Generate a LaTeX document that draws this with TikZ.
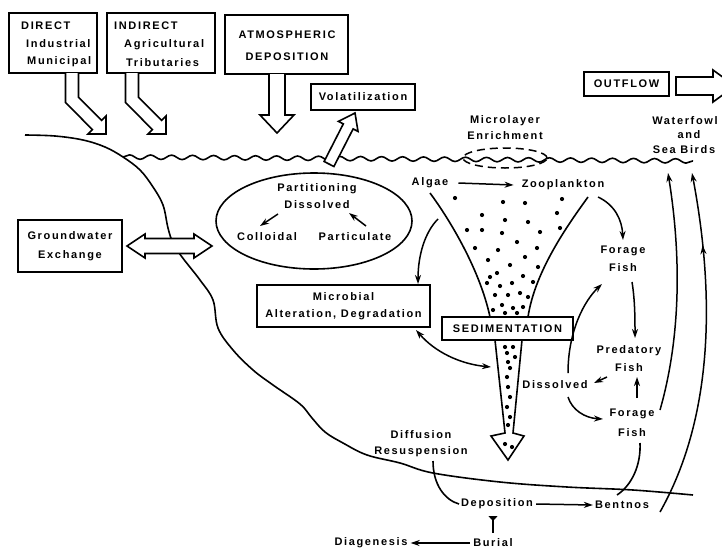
\documentclass[tikz,border=0pt]{standalone}
\usepackage{fontspec}
\setmainfont{Liberation Sans}[LetterSpace=15]
\usetikzlibrary{arrows.meta,decorations.pathmorphing,decorations.markings,shapes.geometric}
\begin{document}
\begin{tikzpicture}[x=1pt,y=-1pt,
  lbl/.style={font=\bfseries\fontsize{11}{13}\selectfont, inner sep=0pt, align=center},
  box/.style={draw, line width=1.6pt, inner sep=0pt},
  ln/.style={line width=1.6pt},
  arr/.style={line width=1.5pt, -{Stealth[length=9pt,width=6pt]}},
  arrb/.style={line width=1.5pt, {Stealth[length=9pt,width=6pt]}-{Stealth[length=9pt,width=6pt]}},
  hollow/.style={line width=1.6pt, fill=white, line join=miter}]
\useasboundingbox (0,0) rectangle (722,549);
\clip (0,0) rectangle (722,549);

% ---------- top boxes ----------
\node[box, minimum width=88pt, minimum height=60pt] (direct) at (53,43) {};
\node[lbl, anchor=west] (directT) at (21,26) {DIRECT};
\node[lbl, anchor=west] (indus) at (26,44) {Industrial};
\node[lbl, anchor=west] (munic) at (27,62) {Municipal};

\node[box, minimum width=108pt, minimum height=60pt] (indirect) at (161,43) {};
\node[lbl, anchor=west] (indirectT) at (114,26) {INDIRECT};
\node[lbl, anchor=west] (agri) at (124,45) {Agricultural};
\node[lbl, anchor=west] (trib) at (126,63) {Tributaries};

\node[box, minimum width=123pt, minimum height=59pt] (atmos) at (286.5,44.5) {};
\node[lbl] (atmos1) at (287,35) {ATMOSPHERIC};
\node[lbl] (atmos2) at (287,57) {DEPOSITION};

\node[box, minimum width=104pt, minimum height=26pt, font=\bfseries\fontsize{11}{13}\selectfont] (volat) at (363,97) {Volatilization};
\node[box, minimum width=85pt, minimum height=24pt, font=\bfseries\fontsize{11}{13}\selectfont] (outflow) at (626.5,84) {OUTFLOW};

% ---------- hollow arrows ----------
\draw[hollow] (65.5,73) -- (65.5,102.5) -- (92.4,129.6) -- (88,134) -- (106,134) -- (106,116) -- (101.6,120.4) -- (78.5,97.3) -- (78.5,73);
\draw[hollow] (125.5,73) -- (125.5,102.5) -- (152.4,129.6) -- (148,134) -- (166,134) -- (166,116) -- (161.6,120.4) -- (138.5,97.3) -- (138.5,73);
\draw[hollow] (269,74) -- (269,115) -- (260,115) -- (277,133) -- (294,115) -- (285,115) -- (285,74);
\draw[hollow] (676,77) -- (713,77) -- (713,70) -- (735,86) -- (713,102) -- (713,95) -- (676,95) -- cycle;

% ---------- shore and bottom ----------
\draw[ln] plot[smooth, tension=0.6] coordinates {(25,135) (55,136) (83,140) (105,147) (123,157) (140,170) (153,187) (163,205) (168,228) (173,243) (182,257) (200,280) (213,300) (218,328) (233,350) (253,370) (273,385) (300,404) (312,418) (325,432) (343,443) (367,455) (400,463) (433,473) (500,482) (567,487) (633,490) (693,495)};

% water surface
\draw[ln, decorate, decoration={snake, amplitude=2.2pt, segment length=21pt}] (123,157) -- (693,161);

% volatilization hollow arrow
\draw[hollow] (324.1,161.5) -- (343.3,123.9) -- (338.4,121.4) -- (355,113) -- (358,131.4) -- (353.1,128.9) -- (333.9,166.5) -- cycle;

% groundwater
\node[box, minimum width=104pt, minimum height=52pt, align=center, font=\bfseries\fontsize{11}{19}\selectfont] (ground) at (70,246) {Groundwater\\Exchange};
\draw[hollow] (127,246) -- (145,234) -- (145,238.5) -- (194,238.5) -- (194,234) -- (212,246) -- (194,258) -- (194,253.5) -- (145,253.5) -- (145,258) -- cycle;

% microlayer
\node[lbl, font=\bfseries\fontsize{11}{16}\selectfont] (microT) at (505,128) {Microlayer\\Enrichment};
\node[draw, ellipse, dashed, line width=1.5pt, dash pattern=on 8pt off 5pt, minimum width=84pt, minimum height=20pt] (micro) at (505,158) {};

% waterfowl
\node[lbl] (water1) at (685,121) {Waterfowl};
\node[lbl] (water2) at (689,135) {and};
\node[lbl] (water3) at (684,150) {Sea Birds};

% ---------- partitioning ellipse ----------
\node[draw, ellipse, line width=1.6pt, minimum width=196pt, minimum height=96pt] (part) at (314,221) {};
\node[lbl] (partT) at (317,189) {Partitioning};
\node[lbl] (dissP) at (317,205) {Dissolved};
\node[lbl] (coll) at (267,237) {Colloidal};
\node[lbl] (partic) at (355,237) {Particulate};
\draw[arr] (278,214) -- (260,226);
\draw[arr] (366,226) -- (349,213);

% ---------- microbial, sedimentation ----------
\node[box, minimum width=173pt, minimum height=42pt, align=center, font=\bfseries\fontsize{11}{17}\selectfont] (microb) at (343.5,306) {Microbial\\Alteration, Degradation};

% funnel
\draw[ln] (430,193) .. controls (450,220) and (480,270) .. (490,317);
\draw[ln] (588,197) .. controls (570,222) and (535,270) .. (528,317);
\draw[ln, line join=miter] (495,340) -- (505,433) -- (491,436) -- (508,460) -- (524,436) -- (513,433) -- (522,340);
\foreach \p in {(455,198),(503,202),(525,203),(562,199),(482,215),(505,220),(528,222),(557,213),
  (467,230),(482,230),(502,233),(540,232),(560,228),(517,242),(475,248),(498,250),(537,248),
  (488,260),(525,257),(510,265),(538,267),(497,273),(523,276),(490,277),(487,283),(512,283),
  (533,282),(500,286),(495,295),(508,295),(520,293),(528,297),(502,305),(513,308),(523,307),
  (505,313),(517,313),(493,310),
  (505,347),(513,347),(507,353),(515,357),(508,362),(510,368),(507,377),(508,387),(510,397),
  (507,407),(510,417),(508,425),(505,444),(512,447)}
  \fill \p circle (2.1pt);

\node[box, fill=white, minimum width=131pt, minimum height=23pt, font=\bfseries\fontsize{11}{13}\selectfont] (sed) at (507.5,328.5) {SEDIMENTATION};

% ---------- food web labels ----------
\node[lbl] (algae) at (430,183) {Algae};
\node[lbl] (zoo) at (563,185) {Zooplankton};
\node[lbl, font=\bfseries\fontsize{11}{18}\selectfont] (forage1) at (623,259) {Forage\\Fish};
\node[lbl, font=\bfseries\fontsize{11}{18}\selectfont] (pred) at (629,359) {Predatory\\Fish};
\node[lbl] (diss) at (555,385) {Dissolved};
\node[lbl, font=\bfseries\fontsize{11}{20}\selectfont] (forage2) at (632,423) {Forage\\Fish};
\node[lbl, font=\bfseries\fontsize{11}{16}\selectfont] (diff) at (421,444) {Diffusion\\Resuspension};
\node[lbl] (depo) at (497,504) {Deposition};
\node[lbl] (bent) at (622,505) {Bentnos};
\node[lbl] (burial) at (493,543) {Burial};
\node[lbl] (diag) at (371,543) {Diagenesis};

% coordinates for curved connectors
\coordinate (a1) at (438,219);
\coordinate (m1) at (418,284);
\coordinate (m2) at (416,330);
\coordinate (f1) at (491,367);
\coordinate (z1) at (598,197);
\coordinate (ff1) at (623,240);
\coordinate (ff1b) at (632,282);
\coordinate (pr1) at (635,338);
\coordinate (pr2) at (607,377);
\coordinate (ds1) at (594,383);
\coordinate (ds2) at (568,373);
\coordinate (ff1c) at (602,284);
\coordinate (ds3) at (568,397);
\coordinate (ff2a) at (603,419);
\coordinate (ff2b) at (637,398);
\coordinate (pr3) at (637,377);
\coordinate (ff2c) at (640,443);
\coordinate (bn1) at (617,495);
\coordinate (ff2d) at (660,410);
\coordinate (wb1) at (668,173);
\coordinate (bn2) at (660,512);
\coordinate (wb2) at (692,173);
\coordinate (df1) at (433,461);
\coordinate (dp1) at (459,504);
\coordinate (dp2) at (493,516);
\coordinate (br1) at (493,533);

\draw[arr] ([xshift=10pt]algae.east) -- ([xshift=-8pt]zoo.west);
\draw[arr] (a1) .. controls (425,232) and (418,255) .. (m1);
\draw[arrb] (m2) .. controls (435,352) and (460,364) .. (f1);
\draw[arr] (z1) .. controls (615,205) and (622,220) .. (ff1);
\draw[arr] (ff1b) .. controls (635,300) and (635,320) .. (pr1);
\draw[arr] (pr2) -- (ds1);
\draw[arr] (ds2) .. controls (568,330) and (585,300) .. (ff1c);
\draw[arr] (ds3) .. controls (572,410) and (585,418) .. (ff2a);
\draw[arr] (ff2b) -- (pr3);
\draw[ln] (ff2c) .. controls (641,465) and (632,485) .. (bn1);
\draw[arr] (ff2d) .. controls (680,340) and (682,260) .. (wb1);
\draw[arr, postaction={decorate}, decoration={markings, mark=at position 0.79 with {\arrow{Stealth[length=9pt,width=6pt]}}}] (bn2) .. controls (712,420) and (716,300) .. (wb2);
\draw[ln] (df1) .. controls (433,485) and (445,500) .. (dp1);
\draw[arr] ([xshift=3pt]depo.east) -- ([xshift=-2pt]bent.west);
\draw[line width=1.6pt, {Triangle[reversed,length=5pt,width=9pt]}-] (dp2) -- (br1);
\draw[arr] ([xshift=-3pt]burial.west) -- ([xshift=3pt]diag.east);

\end{tikzpicture}
\end{document}
